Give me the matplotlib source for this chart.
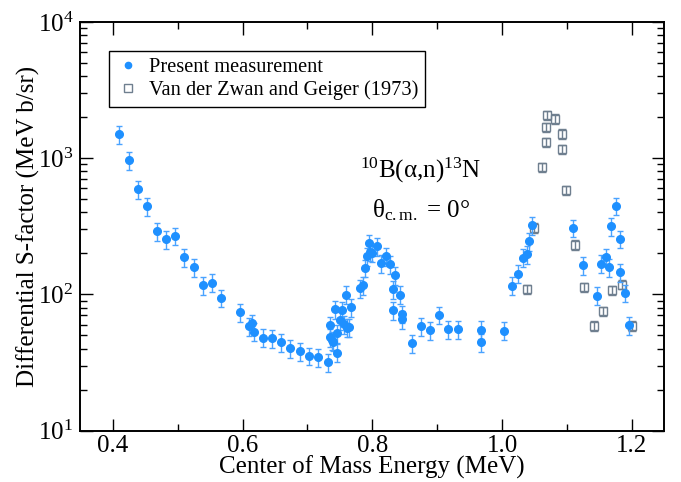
import matplotlib
matplotlib.use("Agg")
import matplotlib.pyplot as plt
from matplotlib.lines import Line2D
from matplotlib.ticker import LogLocator, MultipleLocator, LogFormatterMathtext, FormatStrFormatter

plt.rcParams['font.family'] = ['Liberation Serif', 'DejaVu Serif']
plt.rcParams['mathtext.fontset'] = 'custom'
plt.rcParams['mathtext.rm'] = 'Liberation Serif'
plt.rcParams['mathtext.it'] = 'Liberation Serif:italic'
plt.rcParams['mathtext.bf'] = 'Liberation Serif:bold'

# Present measurement
pm_x = [0.410, 0.425, 0.439, 0.453, 0.468, 0.482, 0.496, 0.510, 0.525, 0.539,
        0.553, 0.567, 0.596, 0.610, 0.614, 0.617, 0.631, 0.646, 0.660, 0.673,
        0.688, 0.703, 0.717, 0.732, 0.7348, 0.7354, 0.738, 0.739, 0.7425, 0.7455,
        0.746, 0.750, 0.753, 0.756, 0.760, 0.7605, 0.7635, 0.767, 0.7815, 0.785,
        0.789, 0.792, 0.795, 0.797, 0.799, 0.807, 0.814, 0.821, 0.828, 0.832,
        0.832, 0.835, 0.8425, 0.846, 0.846, 0.861, 0.875, 0.889, 0.903, 0.917,
        0.932, 0.967, 0.967, 1.0025, 1.015, 1.025, 1.032, 1.039, 1.041, 1.046,
        1.110, 1.125, 1.146, 1.153, 1.1605, 1.164, 1.168, 1.175, 1.182, 1.1815,
        1.189, 1.196]
pm_y = [1500, 964, 590, 443, 290, 253, 269, 188, 158, 117,
        122, 94.4, 74.1, 58.5, 61.2, 53.1, 48.0, 47.5, 44.4, 40.2,
        38.1, 35.4, 34.5, 31.7, 48.3, 59.5, 46.2, 44.9, 78.0, 37.3,
        51.8, 64.4, 76.7, 60.3, 99.4, 56.9, 57.3, 80.3, 110.6, 117,
        156, 190, 238, 206, 202, 226, 169, 190, 166, 109,
        76.3, 138, 99.4, 72.0, 65.5, 43.9, 58.5, 54.4, 70.8, 55.6,
        55.6, 55.0, 44.7, 54.1, 116, 142, 186, 197, 245, 321,
        308, 163, 97.7, 168, 189, 159, 317, 447, 256, 145,
        103, 59.2]
pm_err = [225, 145, 89, 66, 44, 38, 40, 28, 24, 18,
          18, 14, 11, 9, 9, 8, 7.2, 7.1, 6.7, 6.0,
          5.7, 5.3, 5.2, 4.8, 7.2, 8.9, 6.9, 6.7, 11.7, 5.6,
          7.8, 9.7, 11.5, 9.0, 14.9, 8.5, 8.6, 12, 16.6, 17.6,
          23, 28, 36, 31, 30, 34, 25, 28, 25, 16,
          11.4, 21, 15, 10.8, 9.8, 6.6, 8.8, 8.2, 10.6, 8.3,
          8.3, 8.2, 6.7, 8.1, 17, 21, 28, 30, 37, 48,
          46, 24, 14.7, 25, 28, 24, 48, 67, 38, 22,
          15, 8.9]

# Van der Zwan and Geiger (1973)
vz_x = [1.0385, 1.0497, 1.061, 1.0671, 1.0671, 1.0692, 1.0809, 1.0923, 1.0923,
        1.0985, 1.1123, 1.127, 1.1409, 1.1548, 1.1692, 1.1846, 1.2009]
vz_y = [109, 308, 860, 1683, 1306, 2060, 1945, 1511, 1166,
        580, 231, 113, 58.8, 75, 107, 118, 58.5]
vz_err = [9, 25, 69, 135, 104, 165, 156, 121, 93,
          46, 18, 9, 4.7, 6, 8.6, 9.4, 4.7]

fig = plt.figure(figsize=(6.81, 4.82), dpi=100)
ax = fig.add_axes([0.1179, 0.1068, 0.8576, 0.8475])

blue = '#1e90ff'
grey = '#6f7f8f'

ax.errorbar(vz_x, vz_y, yerr=vz_err, fmt='s', ms=6, mfc='none', mec=grey, mew=1.0,
            ecolor=grey, elinewidth=1.0, capsize=3, capthick=1.0, zorder=2)
ax.errorbar(pm_x, pm_y, yerr=pm_err, fmt='o', ms=5.5, color=blue, mec=blue,
            ecolor='#4aa3ff', elinewidth=1.0, capsize=2.5, capthick=1.0, zorder=3)

ax.set_yscale('log')
ax.set_xlim(0.35, 1.25)
ax.set_ylim(10, 1e4)

ax.xaxis.set_major_locator(MultipleLocator(0.2))
ax.xaxis.set_minor_locator(MultipleLocator(0.1))
ax.xaxis.set_major_formatter(FormatStrFormatter('%.1f'))
ax.yaxis.set_major_locator(LogLocator(base=10, numticks=10))
ax.yaxis.set_minor_locator(LogLocator(base=10, subs=range(2, 10), numticks=10))
ax.yaxis.set_major_formatter(LogFormatterMathtext())

ax.tick_params(which='both', direction='in', top=True, right=True, labelsize=18, width=1.0)
ax.tick_params(which='major', length=9)
ax.tick_params(which='minor', length=5)
ax.tick_params(axis='x', which='major', pad=3)
ax.tick_params(axis='y', which='major', pad=5)
for s in ax.spines.values():
    s.set_linewidth(1.4)

ax.set_xlabel('Center of Mass Energy (MeV)', fontsize=18, labelpad=-1)
ax.set_ylabel('Differential S-factor (MeV b/sr)', fontsize=18, labelpad=-2)

ax.text(0.479, 0.618, '$^{10}$B(α,n)$^{13}$N', transform=ax.transAxes,
        fontsize=18, va='baseline', ha='left')
ax.text(0.4995, 0.5227, 'θ$_{\\mathrm{c.m.}}$ = 0°', transform=ax.transAxes,
        fontsize=18, va='baseline', ha='left')

handles = [Line2D([], [], ls='none', marker='o', ms=4.5, color=blue),
           Line2D([], [], ls='none', marker='s', ms=6, mfc='none', mec=grey, mew=1.0)]
leg = ax.legend(handles, ['Present measurement', 'Van der Zwan and Geiger (1973)'],
                loc='upper left', bbox_to_anchor=(0.049, 0.929), borderaxespad=0,
                fancybox=False, framealpha=1, edgecolor='black', fontsize=14.7,
                handlelength=1.2, handletextpad=0.4, labelspacing=0.15,
                borderpad=0.35)
leg.get_frame().set_linewidth(1.0)

fig.savefig('out.png', dpi=100)
